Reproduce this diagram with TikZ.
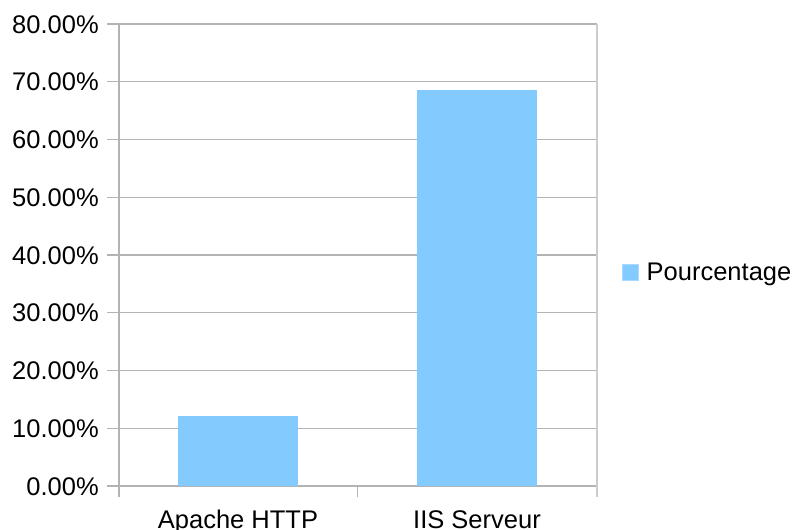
\documentclass[tikz,border=0pt]{standalone}
\usepackage{fontspec}
\setmainfont{Liberation Sans}
\definecolor{gridc}{HTML}{B3B3B3}
\definecolor{wallc}{HTML}{CCCCCC}
\definecolor{barc}{HTML}{83CAFF}
\begin{document}
\begin{tikzpicture}[x=1bp,y=-1bp,
  grid/.style={draw=gridc,line width=1.2bp},
  wall/.style={draw=wallc,line width=1.2bp},
  bar/.style={fill=barc,draw=none},
  lab/.style={font=\fontsize{25.5bp}{30bp}\selectfont,text=black,inner sep=0pt,outer sep=0pt}]
\useasboundingbox (0,0) rectangle (793,530);
% gridlines and y labels
\foreach \v [count=\i from 0] in {0,10,20,30,40,50,60,70,80} {
  \pgfmathsetmacro{\yy}{486-57.75*\i}
  \coordinate (g\i l) at (107,\yy);
  \coordinate (g\i r) at (597,\yy);
  \draw[grid] (g\i l) -- (g\i r);
  \node[lab,anchor=base east] (yl\i) at (98.7,\yy+9.1) {\v.00\%};
}
% axes
\coordinate (axt) at (119,24);
\coordinate (axb) at (119,497);
\coordinate (art) at (597,24);
\coordinate (arb) at (597,497);
\coordinate (mt) at (357.7,486);
\coordinate (mb) at (357.7,497);
\draw[grid] (axt) -- (axb);
\draw[wall] (art) -- (arb);
\draw[grid] (mt) -- (mb);
% bars
\path[bar] (178,486) rectangle (298,416);
\path[bar] (417,486) rectangle (537,90);
\node[inner sep=0pt] (apache) at (238,486) {};
\node[inner sep=0pt] (iis) at (477,486) {};
% category labels
\node[lab,anchor=base] (c1) at (238,528.3) {Apache HTTP};
\node[lab,anchor=base] (c2) at (477,528.3) {IIS Serveur};
% legend
\path[fill=barc,draw=barc!70!white,line width=0.6bp] (622,264) rectangle (638,280);
\node[lab,anchor=base west] (leg) at (646.7,280.7) {Pourcentage};
\end{tikzpicture}
\end{document}
